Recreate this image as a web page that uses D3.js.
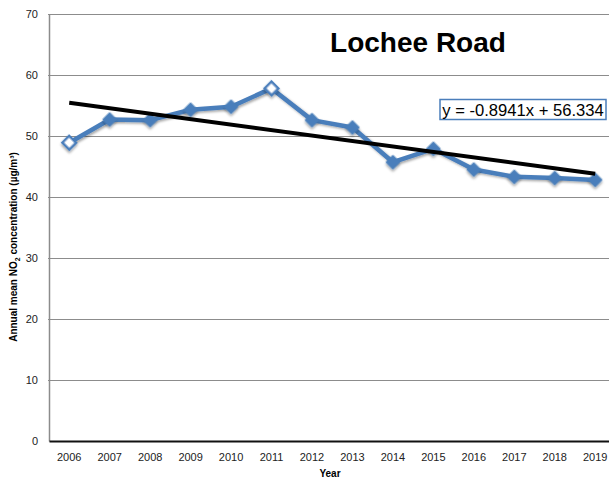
<!DOCTYPE html>
<html>
<head>
<meta charset="utf-8">
<script src="https://cdn.jsdelivr.net/npm/d3@7"></script>
<style>
  body { margin: 0; background: #fff; }
  svg { display: block; font-family: "Liberation Sans", Arial, sans-serif; }
</style>
</head>
<body>
<div id="chart"></div>
<script>
// data
var years = ["2006","2007","2008","2009","2010","2011","2012","2013","2014","2015","2016","2017","2018","2019"];
var no2 = [48.9, 52.7, 52.6, 54.3, 54.8, 57.8, 52.6, 51.4, 45.7, 47.9, 44.5, 43.3, 43.1, 42.8];
var hollow = ["2006", "2011"];
var yTicks = [0, 10, 20, 30, 40, 50, 60, 70];
var trendSlope = -0.8941, trendIntercept = 56.334;

var width = 609, height = 482;
var margin = {top: 14, left: 49, bottom: 41};
var plotW = 14 * 40.46;

var svg = d3.select("#chart").append("svg")
    .attr("width", width)
    .attr("height", height);

var defs = svg.append("defs");
var f = defs.append("filter").attr("id", "shadow")
    .attr("x", "-50%").attr("y", "-50%").attr("width", "200%").attr("height", "200%");
f.append("feDropShadow").attr("dx", 1.5).attr("dy", 1.5).attr("stdDeviation", 1.2)
    .attr("flood-color", "#000").attr("flood-opacity", 0.35);

var x = d3.scaleBand().domain(years).range([margin.left, margin.left + plotW]);
var y = d3.scaleLinear().domain([0, 70]).range([height - margin.bottom, margin.top]);

// gridlines
svg.append("g")
  .selectAll("line").data(yTicks.filter(function(d) { return d > 0; })).enter()
  .append("line")
    .attr("x1", margin.left - 1).attr("x2", width)
    .attr("y1", function(d) { return y(d) + 0.5; })
    .attr("y2", function(d) { return y(d) + 0.5; })
    .attr("stroke", "#8c8c8c").attr("stroke-width", 1);

// y axis
var yAxis = svg.append("g")
    .attr("transform", "translate(" + margin.left + ",0)")
    .call(d3.axisLeft(y).tickValues(yTicks).tickSize(0).tickPadding(11));
yAxis.select(".domain").attr("stroke", "#8c8c8c").attr("stroke-width", 1.5);
yAxis.selectAll("text").attr("font-size", 11).attr("fill", "#222")
    .attr("font-family", "Liberation Sans, Arial, sans-serif");

// x axis
var xAxis = svg.append("g")
    .attr("transform", "translate(0," + y(0) + ")")
    .call(d3.axisBottom(x).tickSize(0).tickPadding(12));
xAxis.select(".domain").attr("stroke", "#111").attr("stroke-width", 2);
xAxis.selectAll("text").attr("font-size", 11).attr("fill", "#222")
    .attr("font-family", "Liberation Sans, Arial, sans-serif");

var cx = function(d) { return x(d) + x.bandwidth() / 2; };

// data line
var line = d3.line()
    .x(function(d, i) { return cx(years[i]); })
    .y(function(d) { return y(d); });

svg.append("path")
    .datum(no2)
    .attr("d", line)
    .attr("fill", "none")
    .attr("stroke", "#4a7ebb")
    .attr("stroke-width", 4.5)
    .attr("stroke-linejoin", "round")
    .attr("filter", "url(#shadow)");

// markers (square turned 45deg)
var diamond = d3.symbol().type(d3.symbolSquare).size(95);
svg.append("g")
  .selectAll("path").data(no2).enter()
  .append("path")
    .attr("d", diamond)
    .attr("transform", function(d, i) { return "translate(" + cx(years[i]) + "," + y(d) + ") rotate(45)"; })
    .attr("fill", function(d, i) { return hollow.indexOf(years[i]) >= 0 ? "#fff" : "#4a7ebb"; })
    .attr("stroke", "#4a7ebb")
    .attr("stroke-width", function(d, i) { return hollow.indexOf(years[i]) >= 0 ? 2.5 : 1; })
    .attr("filter", "url(#shadow)");

// linear trend line
var first = 1, last = years.length;
svg.append("line")
    .attr("x1", cx(years[0])).attr("y1", y(trendSlope * first + trendIntercept))
    .attr("x2", cx(years[last - 1])).attr("y2", y(trendSlope * last + trendIntercept))
    .attr("stroke", "#000").attr("stroke-width", 4);

// equation label
var eqG = svg.append("g");
eqG.append("rect")
    .attr("x", 440).attr("y", 99.5).attr("width", 166).attr("height", 20)
    .attr("fill", "#fff").attr("stroke", "#4a7ebb").attr("stroke-width", 1.5);
eqG.append("text")
    .attr("x", 523).attr("y", 115.5)
    .attr("text-anchor", "middle")
    .attr("font-size", 16.6)
    .attr("fill", "#000")
    .text("y = -0.8941x + 56.334");

// title
svg.append("text")
    .attr("x", 418).attr("y", 52)
    .attr("text-anchor", "middle")
    .attr("font-size", 28).attr("font-weight", "bold")
    .text("Lochee Road");

// axis titles
svg.append("text")
    .attr("x", 330).attr("y", 477)
    .attr("text-anchor", "middle")
    .attr("font-size", 10).attr("font-weight", "bold")
    .text("Year");

var yt = svg.append("text")
    .attr("transform", "translate(17," + 247 + ") rotate(-90)")
    .attr("text-anchor", "middle")
    .attr("font-size", 10).attr("font-weight", "bold");
yt.append("tspan").text("Annual mean NO");
yt.append("tspan").attr("font-size", 7).attr("dy", 3).text("2");
yt.append("tspan").attr("dy", -3).text(" concentration (µg/m³)");
</script>
</body>
</html>
